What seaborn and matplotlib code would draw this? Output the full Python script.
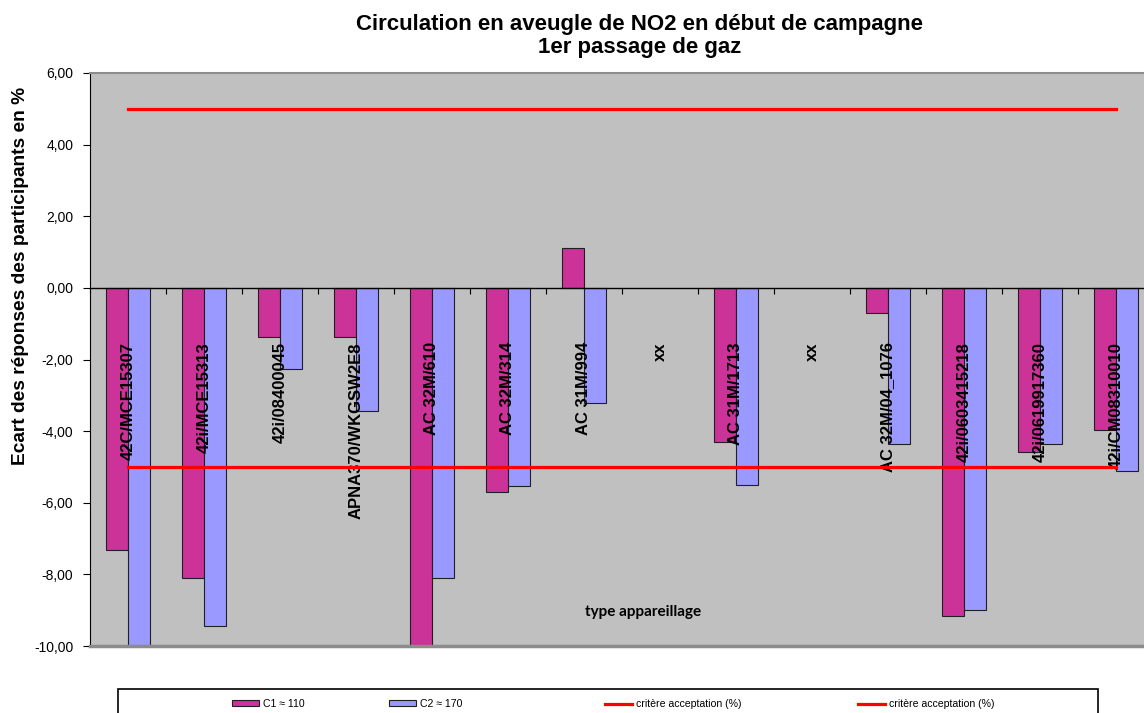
import numpy as np
import pandas as pd
import matplotlib
matplotlib.use("Agg")
import matplotlib.pyplot as plt
from matplotlib.patches import Rectangle
from matplotlib.ticker import FuncFormatter
import seaborn as sns

# ---- data ----
appareils = ["42C/MCE15307", "42i/MCE15313", "42i/08400045", "APNA370/WKGSW2E8",
             "AC 32M/610", "AC 32M/314", "AC 31M/994", "xx", "AC 31M/1713", "xx",
             "AC 32M/04_1076", "42i/0603415218", "42i/0619917360", "42i/CM08310010"]
c1_110 = [-7.32, -8.10, -1.37, -1.37, -10.5, -5.70, 1.12, np.nan, -4.30, np.nan,
          -0.70, -9.16, -4.58, -3.97]
c2_170 = [-10.5, -9.44, -2.27, -3.44, -8.10, -5.53, -3.21, np.nan, -5.50, np.nan,
          -4.36, -9.00, -4.36, -5.11]
critere_haut = [5, 5, 5, 5, 5, 5, 5, 5, 5, 5, 5, 5, 5, 5]
critere_bas = [-5, -5, -5, -5, -5, -5, -5, -5, -5, -5, -5, -5, -5, -5]
series = ["C1 \u2248 110", "C2 \u2248 170"]
y_ticks = [-10, -8, -6, -4, -2, 0, 2, 4, 6]

n = len(appareils)
pos = list(range(n))
df = pd.DataFrame({
    "pos": pos + pos,
    "serie": [series[0]] * n + [series[1]] * n,
    "ecart": c1_110 + c2_170,
}).dropna()

# ---- figure ----
plt.rcParams["font.family"] = ["Liberation Sans", "DejaVu Sans"]
W, H = 1144, 713
fig = plt.figure(figsize=(W / 100, H / 100), dpi=100)
ax = fig.add_axes([90 / W, 1 - 646 / H, 1064 / W, 573 / H])
ax.set_facecolor("#C0C0C0")

sns.barplot(data=df, x="pos", y="ecart", hue="serie", order=pos, hue_order=series,
            palette=["#CC3399", "#9999FF"], width=0.57, saturation=1,
            edgecolor="#202020", linewidth=0.8, errorbar=None, ax=ax)

ax.plot(pos, critere_haut, color="#FF0000", lw=2.3, label="crit\u00e8re acceptation (%)", zorder=3)
ax.plot(pos, critere_bas, color="#FF0000", lw=2.3, label="crit\u00e8re acceptation (%)", zorder=3)

ax.set_xlim(-0.5, n - 0.5)
ax.set_ylim(-10, 6)

# y axis
ax.set_yticks(y_ticks)
ax.yaxis.set_major_formatter(FuncFormatter(lambda v, p: f"{v:.2f}".replace(".", ",")))
ax.tick_params(axis="y", length=5, direction="out", labelsize=10, width=0.8, pad=7)
ax.set_ylabel("Ecart des r\u00e9ponses des participants en %", fontsize=13.8, fontweight="bold")
ax.yaxis.set_label_coords(-0.057, 0.645)

# x axis crossing at 0, labels inside the plot
ax.spines["bottom"].set_position(("data", 0))
ax.spines["bottom"].set_color("black")
ax.spines["bottom"].set_linewidth(1)
ax.set_xticks(np.arange(-0.5, n, 1))
ax.set_xticklabels([])
ax.set_xticks(pos, minor=True)
ax.set_xticklabels(appareils, minor=True, rotation=90, fontsize=12, fontweight="bold")
ax.tick_params(axis="x", which="major", length=4, direction="out", width=0.8)
ax.tick_params(axis="x", which="minor", length=0, pad=39)
ax.set_xlabel("")

ax.spines["left"].set_color("black")
ax.spines["top"].set_color("#8C8C8C")
ax.spines["top"].set_linewidth(1.5)
ax.spines["right"].set_visible(False)
ax.axhline(-10, color="#8C8C8C", lw=2.5, clip_on=False, zorder=4)

ax.text((643 - 90) / 1064, 1 - (612 - 73) / 573, "type appareillage",
        transform=ax.transAxes, ha="center", va="center", fontsize=11,
        fontweight="bold", family=["Lato", "DejaVu Sans"])

fig.text(640 / W, 1 - 36 / H, "Circulation en aveugle de NO2 en d\u00e9but de campagne\n1er passage de gaz",
         ha="center", va="center", fontsize=16, fontweight="bold", linespacing=1.15)

# legend: one entry per column, placed like the original
handles, labels = ax.get_legend_handles_labels()
ax.get_legend().remove()
legend_x = [232, 389, 605, 858]
for h, l, x in zip(handles, labels, legend_x):
    fig.legend([h], [l], loc="center left", bbox_to_anchor=(x / W, 1 - 704 / H),
               frameon=False, fontsize=7.6, handlelength=2.6, handleheight=0.5,
               handletextpad=0.3, borderpad=0, borderaxespad=0)
fig.add_artist(Rectangle((118 / W, -0.02), 980 / W, 0.02 + (713 - 689) / H,
                         transform=fig.transFigure, facecolor="none",
                         edgecolor="black", lw=1.2, clip_on=False))

fig.savefig("out.png", dpi=100)
